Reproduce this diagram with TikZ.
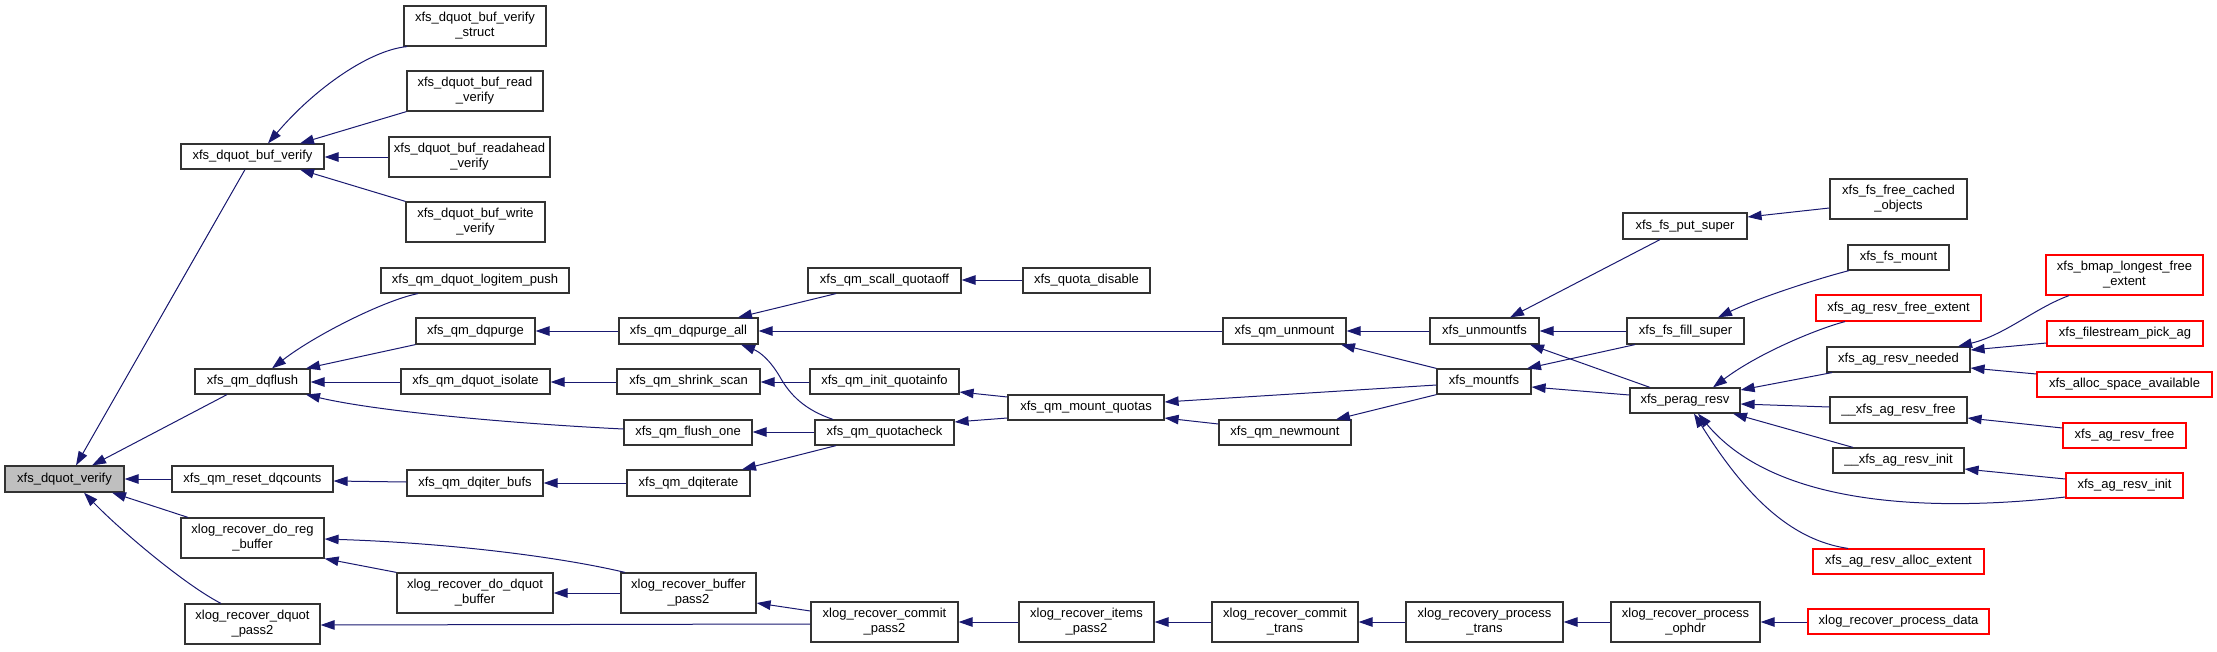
\documentclass[tikz,border=0pt]{standalone}
\usepackage{fontspec}
\setmainfont{Liberation Sans}
\usetikzlibrary{arrows.meta}
\definecolor{edgec}{HTML}{191970}
\definecolor{nodeb}{HTML}{333333}
\tikzset{
  box/.style={draw=nodeb, line width=1.2pt, fill=white, inner sep=0pt, align=center,
    font=\fontsize{13}{15}\selectfont},
  rootbox/.style={box, fill=gray!50},
  redbox/.style={box, draw=red},
  e/.style={draw=edgec, line width=1pt, {Triangle[length=14pt,width=9.5pt]}-}
}
\newcommand{\nbox}[7][box]{\node[#1, minimum width={#4-#2}, minimum height={#5-#3}] (#6) at ({(#2+#4)/2},{(#3+#5)/2}) {#7};}
\begin{document}
\begin{tikzpicture}[x=1pt,y=-1pt]
\useasboundingbox (0,0) rectangle (2217,651);
% nodes
\nbox[rootbox]{5}{466}{124}{492}{dqv}{xfs\_dquot\_verify}
\nbox{181}{144}{324}{169}{bv}{xfs\_dquot\_buf\_verify}
\nbox{404}{6}{546}{46}{bvs}{xfs\_dquot\_buf\_verify\\\_struct}
\nbox{407}{71}{543}{111}{brv}{xfs\_dquot\_buf\_read\\\_verify}
\nbox{389}{137}{550}{177}{bra}{xfs\_dquot\_buf\_readahead\\\_verify}
\nbox{406}{202}{545}{242}{bwv}{xfs\_dquot\_buf\_write\\\_verify}
\nbox{381}{268}{569}{293}{lip}{xfs\_qm\_dquot\_logitem\_push}
\nbox{416}{318}{535}{344}{dqp}{xfs\_qm\_dqpurge}
\nbox{195}{369}{310}{394}{dqf}{xfs\_qm\_dqflush}
\nbox{401}{369}{550}{394}{dqi}{xfs\_qm\_dquot\_isolate}
\nbox{172}{466}{333}{492}{rdc}{xfs\_qm\_reset\_dqcounts}
\nbox{407}{470}{543}{496}{dib}{xfs\_qm\_dqiter\_bufs}
\nbox{181}{518}{324}{558}{drb}{xlog\_recover\_do\_reg\\\_buffer}
\nbox{397}{573}{553}{613}{ddb}{xlog\_recover\_do\_dquot\\\_buffer}
\nbox{185}{604}{320}{644}{dpt}{xlog\_recover\_dquot\\\_pass2}
\nbox{808}{268}{961}{293}{sqo}{xfs\_qm\_scall\_quotaoff}
\nbox{1023}{268}{1150}{293}{qd}{xfs\_quota\_disable}
\nbox{619}{318}{758}{344}{dpa}{xfs\_qm\_dqpurge\_all}
\nbox{617}{369}{760}{394}{ss}{xfs\_qm\_shrink\_scan}
\nbox{810}{369}{959}{394}{iq}{xfs\_qm\_init\_quotainfo}
\nbox{1008}{395}{1164}{420}{mq}{xfs\_qm\_mount\_quotas}
\nbox{624}{420}{752}{445}{fo}{xfs\_qm\_flush\_one}
\nbox{815}{420}{954}{445}{qc}{xfs\_qm\_quotacheck}
\nbox{627}{470}{750}{496}{di}{xfs\_qm\_dqiterate}
\nbox{621}{573}{756}{613}{bpt}{xlog\_recover\_buffer\\\_pass2}
\nbox{811}{602}{958}{642}{cpt}{xlog\_recover\_commit\\\_pass2}
\nbox{1019}{602}{1154}{642}{ipt}{xlog\_recover\_items\\\_pass2}
\nbox{1223}{318}{1346}{344}{um}{xfs\_qm\_unmount}
\nbox{1430}{318}{1539}{344}{umf}{xfs\_unmountfs}
\nbox{1437}{369}{1531}{394}{mf}{xfs\_mountfs}
\nbox{1219}{420}{1351}{445}{nm}{xfs\_qm\_newmount}
\nbox{1212}{602}{1358}{642}{ct}{xlog\_recover\_commit\\\_trans}
\nbox{1406}{602}{1563}{642}{pt}{xlog\_recovery\_process\\\_trans}
\nbox{1611}{602}{1760}{642}{po}{xlog\_recover\_process\\\_ophdr}
\nbox{1623}{213}{1747}{239}{fps}{xfs\_fs\_put\_super}
\nbox{1627}{318}{1744}{344}{ffs}{xfs\_fs\_fill\_super}
\nbox{1630}{388}{1740}{413}{pr}{xfs\_perag\_resv}
\nbox{1830}{179}{1967}{219}{ffc}{xfs\_fs\_free\_cached\\\_objects}
\nbox{1848}{245}{1949}{270}{fm}{xfs\_fs\_mount}
\nbox[redbox]{1816}{295}{1981}{321}{afe}{xfs\_ag\_resv\_free\_extent}
\nbox{1827}{347}{1970}{372}{rn}{xfs\_ag\_resv\_needed}
\nbox{1830}{397}{1967}{423}{rfr}{\_\_xfs\_ag\_resv\_free}
\nbox{1833}{448}{1964}{473}{rin}{\_\_xfs\_ag\_resv\_init}
\nbox[redbox]{1813}{549}{1984}{574}{ae}{xfs\_ag\_resv\_alloc\_extent}
\nbox[redbox]{1808}{609}{1989}{634}{pd}{xlog\_recover\_process\_data}
\nbox[redbox]{2046}{255}{2203}{295}{bl}{xfs\_bmap\_longest\_free\\\_extent}
\nbox[redbox]{2047}{321}{2203}{346}{fp}{xfs\_filestream\_pick\_ag}
\nbox[redbox]{2037}{372}{2212}{397}{as}{xfs\_alloc\_space\_available}
\nbox[redbox]{2063}{423}{2186}{448}{arf}{xfs\_ag\_resv\_free}
\nbox[redbox]{2066}{473}{2183}{498}{ari}{xfs\_ag\_resv\_init}
% edges (tip at callee)
\draw[e] (bv.north -| 268,0) .. controls (315,88) and (370,50) .. (bvs.south -| 407,0);
\draw[e] (bv.north -| 300,0) -- (brv.south west);
\draw[e] (bv.east |- 0,157) -- (bra.west |- 0,157);
\draw[e] (bv.south -| 300,0) -- (bwv.north west);
\draw[e] (dqv.north -| 76,0) -- (bv.south -| 245,0);
\draw[e] (dqv.north -| 92,0) -- (dqf.south -| 227,0);
\draw[e] (dqv.east |- 0,479) -- (rdc.west |- 0,479);
\draw[e] (dqv.south -| 112,0) -- (drb.north -| 188,0);
\draw[e] (dqv.south -| 84,0) .. controls (120,530) and (185,585) .. (dpt.north -| 221,0);
\draw[e] (dqf.north -| 272,0) .. controls (315,335) and (385,300) .. (lip.south -| 418,0);
\draw[e] (dqf.north -| 306,0) -- (dqp.south west);
\draw[e] (dqf.east |- 0,382) -- (dqi.west |- 0,382);
\draw[e] (dqf.south -| 306,0) .. controls (380,412) and (520,424) .. (fo.west |- 0,429);
\draw[e] (dqp.east |- 0,331) -- (dpa.west |- 0,331);
\draw[e] (dpa.north -| 738,0) -- (sqo.south -| 836,0);
\draw[e] (sqo.east |- 0,280) -- (qd.west |- 0,280);
\draw[e] (dpa.east |- 0,331) -- (um.west |- 0,331);
\draw[e] (dpa.south -| 741,0) .. controls (760,352) and (770,360) .. (780,377) .. controls (790,395) and (805,410) .. (qc.north -| 833,0);
\draw[e] (dqi.east |- 0,382) -- (ss.west |- 0,382);
\draw[e] (ss.east |- 0,382) -- (iq.west |- 0,382);
\draw[e] (iq.east |- 0,392) -- (mq.west |- 0,397);
\draw[e] (fo.east |- 0,432) -- (qc.west |- 0,432);
\draw[e] (qc.east |- 0,422) -- (mq.west |- 0,418);
\draw[e] (rdc.east |- 0,481) -- (dib.west |- 0,482);
\draw[e] (dib.east |- 0,483) -- (di.west |- 0,483);
\draw[e] (di.north -| 742,0) -- (qc.south -| 836,0);
\draw[e] (mq.east |- 0,402) -- (mf.west |- 0,385);
\draw[e] (mq.east |- 0,418) -- (nm.west |- 0,424);
\draw[e] (nm.north -| 1336,0) -- (mf.south west);
\draw[e] (um.east |- 0,331) -- (umf.west |- 0,331);
\draw[e] (um.south -| 1341,0) -- (mf.north west);
\draw[e] (umf.north -| 1510,0) -- (fps.south -| 1660,0);
\draw[e] (umf.east |- 0,331) -- (ffs.west |- 0,331);
\draw[e] (mf.north -| 1527,0) -- (ffs.south -| 1635,0);
\draw[e] (mf.east |- 0,387) -- (pr.west |- 0,395);
\draw[e] (umf.south -| 1530,0) -- (pr.north -| 1650,0);
\draw[e] (fps.east |- 0,217) -- (ffc.west |- 0,208);
\draw[e] (ffs.north -| 1718,0) .. controls (1760,297) and (1820,278) .. (fm.south -| 1849,0);
\draw[e] (pr.north -| 1713,0) .. controls (1760,352) and (1820,328) .. (afe.south -| 1845,0);
\draw[e] (pr.east |- 0,390) -- (rn.south -| 1832,0);
\draw[e] (pr.east |- 0,404) -- (rfr.west |- 0,407);
\draw[e] (pr.south -| 1733,0) -- (rin.north -| 1853,0);
\draw[e] (pr.south -| 1698,0) .. controls (1780,512) and (1950,510) .. (ari.west |- 0,497);
\draw[e] (pr.south -| 1694,0) .. controls (1745,495) and (1790,540) .. (ae.north -| 1848,0);
\draw[e] (rn.north -| 1958,0) .. controls (2005,335) and (2035,308) .. (bl.south -| 2069,0);
\draw[e] (rn.east |- 0,350) -- (fp.west |- 0,343);
\draw[e] (rn.east |- 0,368) -- (as.west |- 0,374);
\draw[e] (rfr.east |- 0,418) -- (arf.west |- 0,428);
\draw[e] (rin.east |- 0,469) -- (ari.west |- 0,479);
\draw[e] (drb.east |- 0,539) .. controls (450,543) and (560,557) .. (bpt.north -| 625,0);
\draw[e] (drb.south east) -- (ddb.north west);
\draw[e] (ddb.east |- 0,593) -- (bpt.west |- 0,593);
\draw[e] (bpt.east |- 0,603) -- (cpt.west |- 0,611);
\draw[e] (dpt.east |- 0,625) -- (cpt.west |- 0,624);
\draw[e] (cpt.east |- 0,622) -- (ipt.west |- 0,622);
\draw[e] (ipt.east |- 0,622) -- (ct.west |- 0,622);
\draw[e] (ct.east |- 0,622) -- (pt.west |- 0,622);
\draw[e] (pt.east |- 0,622) -- (po.west |- 0,622);
\draw[e] (po.east |- 0,622) -- (pd.west |- 0,622);
\end{tikzpicture}
\end{document}
